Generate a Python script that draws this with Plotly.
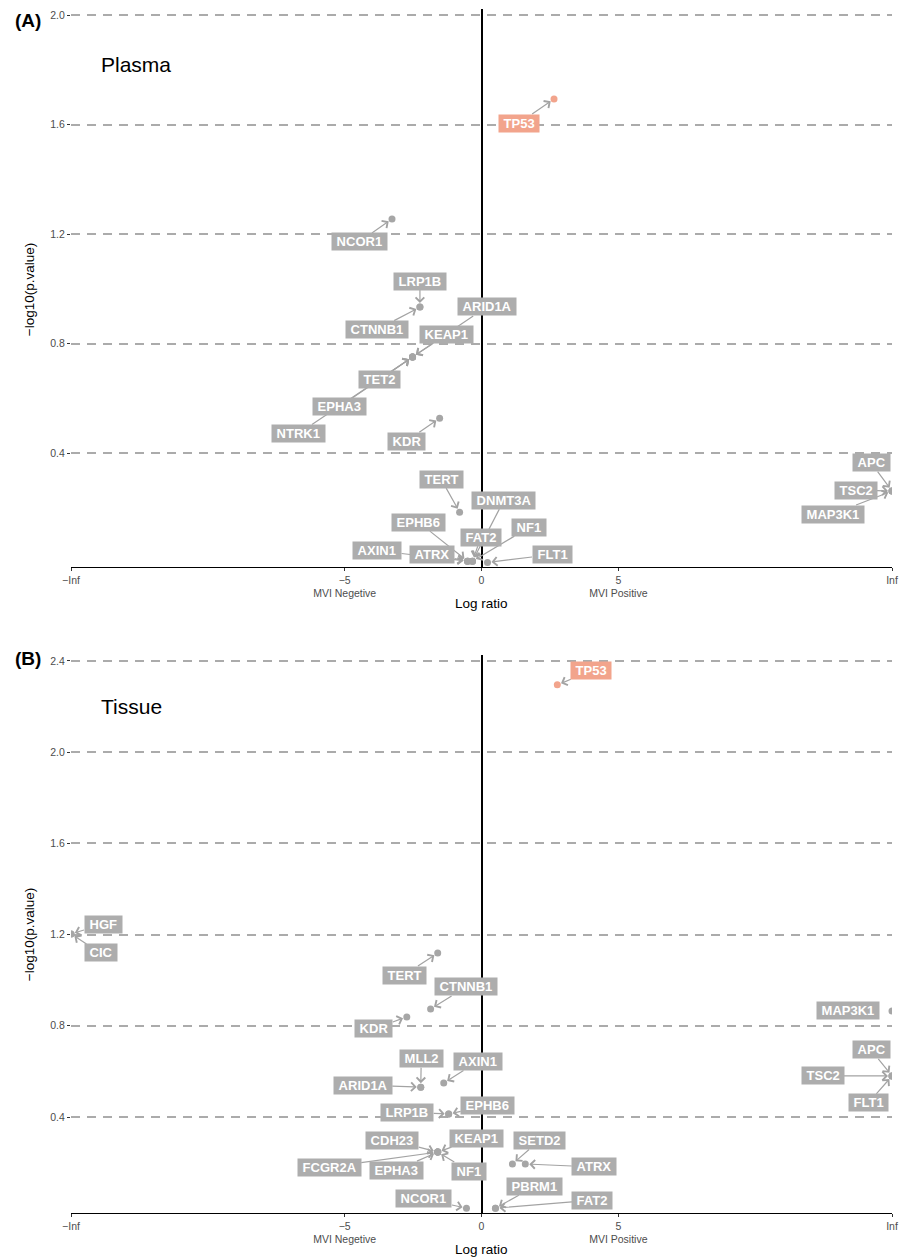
import numpy as np
import plotly.graph_objects as go

# ---------------- data ----------------
# Plasma cohort: log ratio (MVI positive vs negative) and -log10(p value)
plasma_genes = ["TP53", "NCOR1", "LRP1B", "CTNNB1", "ARID1A", "KEAP1", "TET2",
                "EPHA3", "NTRK1", "KDR", "TERT", "DNMT3A", "EPHB6", "NF1",
                "FAT2", "AXIN1", "ATRX", "FLT1", "APC", "TSC2", "MAP3K1"]
plasma_log_ratio = [2.65, -3.27, -2.25, -2.25, -2.52, -2.52, -2.52,
                    -2.52, -2.52, -1.53, -0.80, -0.33, -0.51, -0.33,
                    -0.33, -0.51, -0.51, 0.22, np.inf, np.inf, np.inf]
plasma_neglog10_p = [1.693, 1.255, 0.933, 0.933, 0.751, 0.751, 0.751,
                     0.751, 0.751, 0.527, 0.184, 0.005, 0.005, 0.005,
                     0.005, 0.005, 0.005, 0.0, 0.261, 0.261, 0.261]

# Tissue cohort
tissue_genes = ["TP53", "HGF", "CIC", "TERT", "CTNNB1", "KDR", "MLL2", "ARID1A",
                "AXIN1", "LRP1B", "EPHB6", "CDH23", "KEAP1", "FCGR2A", "EPHA3",
                "NF1", "SETD2", "ATRX", "NCOR1", "PBRM1", "FAT2", "MAP3K1",
                "APC", "TSC2", "FLT1"]
tissue_log_ratio = [2.77, -np.inf, -np.inf, -1.60, -1.86, -2.73, -2.22, -2.22,
                    -1.38, -1.20, -1.20, -1.60, -1.60, -1.60, -1.60,
                    -1.60, 1.13, 1.60, -0.55, 0.51, 0.51, np.inf,
                    np.inf, np.inf, np.inf]
tissue_neglog10_p = [2.295, 1.203, 1.203, 1.119, 0.874, 0.839, 0.531, 0.531,
                     0.549, 0.413, 0.413, 0.246, 0.246, 0.246, 0.246,
                     0.246, 0.194, 0.194, 0.0, 0.0, 0.0, 0.865,
                     0.580, 0.580, 0.580]

x_tick_vals = [-15, -5, 0, 5, 15]
x_tick_text = ["\u2212Inf", "\u22125<br>MVI Negetive", "0", "5<br>MVI Positive", "Inf"]
plasma_y_ticks = [0.4, 0.8, 1.2, 1.6, 2.0]
tissue_y_ticks = [0.4, 0.8, 1.2, 1.6, 2.0, 2.4]

# ---------------- label placement (pixel offsets of label centre from point) ----------------
plasma_offsets = {
    "TP53": (-35, 24), "NCOR1": (-33, 23), "LRP1B": (0, -26), "CTNNB1": (-43, 22.5),
    "ARID1A": (74, -50), "KEAP1": (33.5, -22), "TET2": (-33.5, 23), "EPHA3": (-73.5, 50),
    "NTRK1": (-114, 76.5), "KDR": (-33.5, 23), "TERT": (-18.5, -33), "DNMT3A": (31.5, -61),
    "EPHB6": (-49, -39), "NF1": (57, -34), "FAT2": (8.5, -24), "AXIN1": (-90.5, -10.5),
    "ATRX": (-35.5, -7), "FLT1": (64.5, -8), "APC": (-21, -28.5), "TSC2": (-36.5, -1),
    "MAP3K1": (-59, 23),
}
tissue_offsets = {
    "TP53": (34, -14), "HGF": (32, -9.5), "CIC": (29.5, 19), "TERT": (-33.5, 22),
    "CTNNB1": (35.5, -22), "KDR": (-33, 12), "MLL2": (0.5, -28.5), "ARID1A": (-58, -2),
    "AXIN1": (34, -21.5), "LRP1B": (-41.5, -2), "EPHB6": (39, -8.5), "CDH23": (-45.5, -12),
    "KEAP1": (38.5, -14), "FCGR2A": (-108.5, 15), "EPHA3": (-41.5, 18), "NF1": (31.5, 19),
    "SETD2": (27, -23.5), "ATRX": (69, 3), "NCOR1": (-42.5, -9.5), "PBRM1": (39.5, -22),
    "FAT2": (97, -8), "MAP3K1": (-44.5, 0), "APC": (-21, -26), "TSC2": (-69.5, 0),
    "FLT1": (-23.5, 27),
}
tissue_no_segment = {"MAP3K1"}

# ---------------- styling ----------------
FONT = "Liberation Sans, Arial, Helvetica, sans-serif"
GREY_POINT = "#A6A6A6"
GREY_LABEL = "#ADADAD"
SIG_COLOR = "#F2A48C"
SEGMENT = "#A3A3A3"
X_LIMIT = 15
SIG_CUT = -np.log10(0.05)

W, H = 907, 1258
PLOT_L, PLOT_R, PLOT_T, PLOT_B = 71, 895, 9, 1213


def paper_x(px):
    return (px - PLOT_L) / (PLOT_R - PLOT_L)


def paper_y(py):
    return (PLOT_B - py) / (PLOT_B - PLOT_T)


fig = go.Figure()
annotations = []


def add_panel(genes, lr, nlp, offsets, xa, ya, no_segment=()):
    x = np.clip(np.array(lr, dtype=float), -X_LIMIT, X_LIMIT)
    y = np.array(nlp, dtype=float)
    sig = y > SIG_CUT
    colors = [SIG_COLOR if s else GREY_POINT for s in sig]
    fig.add_trace(go.Scatter(
        x=x, y=y, mode="markers", xaxis=xa, yaxis=ya,
        marker=dict(size=7, color=colors, line=dict(width=0)),
        hoverinfo="text", text=genes, cliponaxis=True,
    ))
    xref = "x" if xa == "x" else "x2"
    yref = "y" if ya == "y" else "y2"
    # segments first, so every label box sits above all segments
    for g, xi, yi in zip(genes, x, y):
        if g in no_segment:
            continue
        dx, dy = offsets[g]
        annotations.append(dict(
            x=xi, y=yi, xref=xref, yref=yref,
            text="<b>\u00a0" + g + "\u00a0</b>",
            font=dict(family=FONT, size=13, color="rgba(0,0,0,0)"),
            bgcolor="rgba(0,0,0,0)", borderpad=1,
            showarrow=True, ax=dx, ay=dy,
            arrowcolor=SEGMENT, arrowhead=4, arrowsize=1.4, arrowwidth=1.2,
            standoff=4,
        ))
    for g, xi, yi, s in zip(genes, x, y, sig):
        dx, dy = offsets[g]
        annotations.append(dict(
            x=xi, y=yi, xref=xref, yref=yref,
            text="<b>\u00a0" + g + "\u00a0</b>",
            font=dict(family=FONT, size=13, color="white"),
            bgcolor=SIG_COLOR if s else GREY_LABEL, borderpad=1,
            showarrow=False, xshift=dx, yshift=-dy,
            xanchor="center", yanchor="middle",
        ))


add_panel(plasma_genes, plasma_log_ratio, plasma_neglog10_p, plasma_offsets, "x", "y")
add_panel(tissue_genes, tissue_log_ratio, tissue_neglog10_p, tissue_offsets, "x2", "y2",
          tissue_no_segment)

xaxis_style = dict(
    range=[-X_LIMIT, X_LIMIT], tickmode="array", tickvals=x_tick_vals, ticktext=x_tick_text,
    showgrid=False, zeroline=True, zerolinecolor="black", zerolinewidth=1.7,
    showline=True, linecolor="black", linewidth=1.3,
    ticks="outside", ticklen=3, tickwidth=1, tickcolor="#333333",
    tickfont=dict(family=FONT, size=10.5, color="#4D4D4D"), fixedrange=True,
)
yaxis_style = dict(
    showgrid=True, gridcolor="#ABABAB", gridwidth=1.5, griddash="9px,7px",
    zeroline=False, showline=False,
    ticks="outside", ticklen=3, tickwidth=1, tickcolor="#333333",
    tickfont=dict(family=FONT, size=10.5, color="#4D4D4D"), fixedrange=True,
)

top_a, bot_a = 9, 567
top_b, bot_b = 655, 1213

fig.update_layout(
    width=W, height=H,
    margin=dict(l=PLOT_L, r=W - PLOT_R, t=PLOT_T, b=H - PLOT_B),
    plot_bgcolor="white", paper_bgcolor="white", showlegend=False,
    font=dict(family=FONT),
    xaxis=dict(xaxis_style, domain=[0, 1], anchor="y"),
    yaxis=dict(yaxis_style, domain=[paper_y(bot_a), paper_y(top_a)], anchor="x",
               range=[-0.0164, 2.022], tickvals=plasma_y_ticks,
               ticktext=[f"{v:.1f}" for v in plasma_y_ticks]),
    xaxis2=dict(xaxis_style, domain=[0, 1], anchor="y2"),
    yaxis2=dict(yaxis_style, domain=[paper_y(bot_b), paper_y(top_b)], anchor="x2",
                range=[-0.021, 2.426], tickvals=tissue_y_ticks,
                ticktext=[f"{v:.1f}" for v in tissue_y_ticks]),
)

# panel tags, cohort names and axis titles
for tag, cy in (("(A)", 20.5), ("(B)", 658.5)):
    annotations.append(dict(
        x=paper_x(28), y=paper_y(cy), xref="paper", yref="paper", text=f"<b>{tag}</b>",
        showarrow=False, xanchor="center", yanchor="middle",
        font=dict(family=FONT, size=19, color="black"),
    ))
for name, cy in (("Plasma", 65), ("Tissue", 706)):
    annotations.append(dict(
        x=paper_x(99), y=paper_y(cy), xref="paper", yref="paper", text=name,
        showarrow=False, xanchor="left", yanchor="middle",
        font=dict(family=FONT, size=21, color="black"),
    ))
for cy in (603, 1250):
    annotations.append(dict(
        x=paper_x(483), y=paper_y(cy), xref="paper", yref="paper", text="Log ratio",
        showarrow=False, xanchor="center", yanchor="middle",
        font=dict(family=FONT, size=13.5, color="black"),
    ))
for cy in (290, 935):
    annotations.append(dict(
        x=paper_x(29), y=paper_y(cy), xref="paper", yref="paper", text="\u2212log10(p.value)",
        showarrow=False, xanchor="center", yanchor="middle", textangle=-90,
        font=dict(family=FONT, size=13.5, color="black"),
    ))

fig.update_layout(annotations=annotations)
fig.write_html("out.html")
